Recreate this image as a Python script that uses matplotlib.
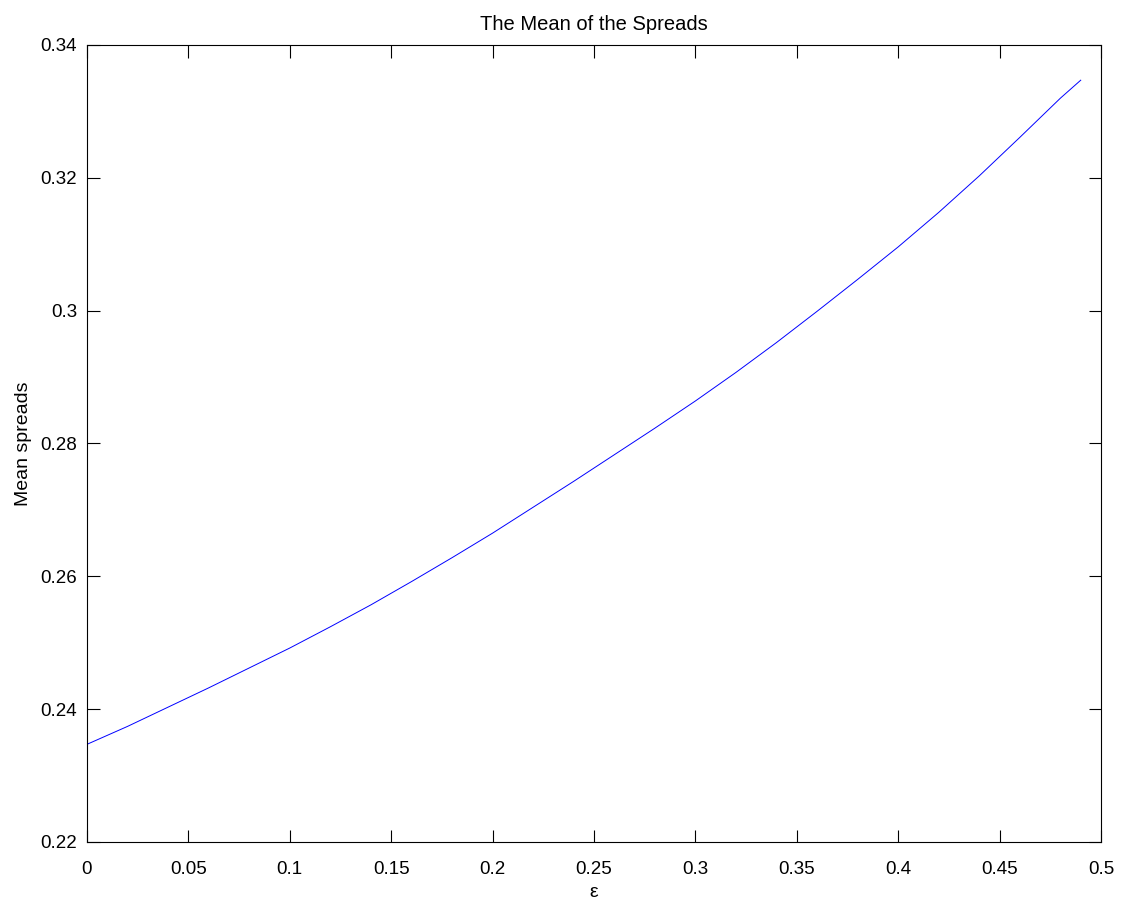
import matplotlib
matplotlib.use('Agg')
import matplotlib.pyplot as plt

# mean spread for each epsilon
eps = [0.00, 0.02, 0.04, 0.06, 0.08, 0.10, 0.12, 0.14, 0.16, 0.18, 0.20, 0.22, 0.24,
       0.26, 0.28, 0.30, 0.32, 0.34, 0.36, 0.38, 0.40, 0.42, 0.44, 0.46, 0.48, 0.49]
mean_spread = [0.2347, 0.2374, 0.2403, 0.2432, 0.2462, 0.2492, 0.2524, 0.2557, 0.2592,
               0.2628, 0.2665, 0.2704, 0.2743, 0.2783, 0.2823, 0.2864, 0.2907, 0.2952,
               0.2999, 0.3047, 0.3096, 0.3148, 0.3203, 0.3261, 0.3320, 0.3347]

xticks = [0, 0.05, 0.1, 0.15, 0.2, 0.25, 0.3, 0.35, 0.4, 0.45, 0.5]
xticklabels = ['0', '0.05', '0.1', '0.15', '0.2', '0.25', '0.3', '0.35', '0.4', '0.45', '0.5']
yticks = [0.22, 0.24, 0.26, 0.28, 0.3, 0.32, 0.34]
yticklabels = ['0.22', '0.24', '0.26', '0.28', '0.3', '0.32', '0.34']

plt.rcParams['font.family'] = ['Liberation Sans', 'DejaVu Sans']

fig = plt.figure(figsize=(11.22, 9.07), dpi=100)
ax = fig.add_axes([0.0775, 0.0717, 0.9038, 0.8787])

ax.plot(eps, mean_spread, color='#0000ff', linewidth=0.7)

ax.set_xlim(0, 0.5)
ax.set_ylim(0.22, 0.34)
ax.set_xticks(xticks)
ax.set_xticklabels(xticklabels)
ax.set_yticks(yticks)
ax.set_yticklabels(yticklabels)

# inward ticks on all four sides
ax.tick_params(direction='in', length=9, width=0.8, top=True, right=True,
               labelsize=13.5)
ax.tick_params(axis='x', pad=14)
ax.tick_params(axis='y', pad=7)
for sp in ax.spines.values():
    sp.set_linewidth(0.8)

ax.set_xlabel('ε', fontsize=14, labelpad=4)
ax.set_ylabel('Mean spreads', fontsize=14, labelpad=6)
ax.set_title('The Mean of the Spreads', fontsize=14.5, pad=11)

fig.savefig('out.png', dpi=100)
